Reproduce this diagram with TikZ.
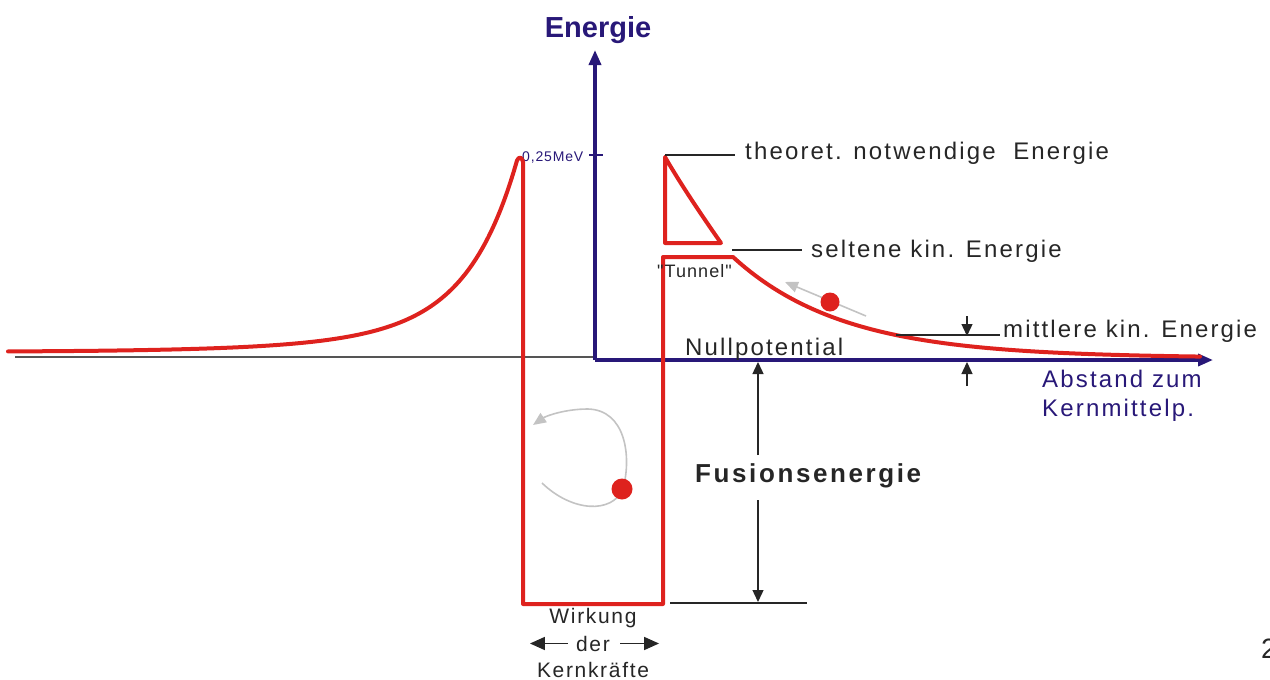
\documentclass[tikz,border=0pt]{standalone}
\usepackage{fontspec}
\setmainfont{Liberation Sans}
\newfontfamily\lsp[LetterSpace=9]{Liberation Sans}
\newfontfamily\lspb[LetterSpace=10]{Liberation Sans Bold}
\newfontfamily\lspw[LetterSpace=8]{Liberation Sans}
\newfontfamily\lspt[LetterSpace=6]{Liberation Sans}
\usetikzlibrary{arrows.meta}
\definecolor{myred}{RGB}{222,34,30}
\definecolor{navy}{RGB}{40,24,120}
\definecolor{lgray}{RGB}{195,195,195}
\definecolor{dgray}{RGB}{85,85,85}
\tikzset{
  rc/.style={draw=myred, line width=4pt, line join=round, line cap=round},
  axisline/.style={draw=navy, line width=3.5pt, -{Triangle[length=15pt,width=12pt]}},
  thinl/.style={draw=black!85, line width=1.4pt},
  dimarrow/.style={draw=black!85, line width=1.4pt, -{Triangle[length=12pt,width=11pt]}},
  bigarrow/.style={draw=black!85, line width=1.6pt, -{Triangle[length=15pt,width=13pt]}},
  grayarrow/.style={draw=lgray, line width=1.6pt, -{Triangle[length=13pt,width=11pt]}},
  txt/.style={inner sep=0pt, text=black!85},
  reddot/.style={circle, fill=myred, inner sep=0pt},
  lbl/.style={txt, font=\lsp\fontsize{24}{28}\selectfont, anchor=base west}
}
\begin{document}
\begin{tikzpicture}[x=1pt,y=-1pt]
\useasboundingbox (0,0) rectangle (1270,680);
% baseline
\draw[draw=dgray, line width=1.6pt] (15,357) -- (595,357);
% axes
\coordinate (O) at (595,360);
\coordinate (ytop) at (595,50);
\coordinate (xend) at (1213,360);
\draw[axisline] (O) -- (ytop);
\draw[axisline] (O) -- (xend);
\node[inner sep=0pt, text=navy, font=\bfseries\fontsize{29}{34}\selectfont, anchor=base] (energie) at (598,37) {Energie};
% tick
\draw[draw=navy, line width=1.4pt] (589,155) -- (603,155);
\node[inner sep=0pt, text=navy, font=\lspt\fontsize{14}{16}\selectfont, anchor=base west] (mev) at (522,161) {0,25MeV};
% red potential
\draw[rc] plot[domain=8:517,samples=160] (\x,{352-138*exp(-(518-\x)/45)-57*exp(-(518-\x)/110)})
  .. controls (519,156) and (522,157) .. (523,162) -- (523,604) -- (663,604) -- (663,257) -- (733,257)
  -- plot[domain=733:1200,samples=120] (\x,{358-101*exp(-(\x-733)/110)});
% triangle
\draw[rc] (665,157) .. controls (680,183) and (700,213) .. (721,243) -- (665,243) -- cycle;
% labels right
\node[lbl] (theo) at (745,159) {theoret. notwendige\ \ Energie};
\coordinate (theoL) at (735,155);
\draw[thinl] (665,155) -- (theoL);
\node[lbl] (selt) at (811,257) {seltene kin. Energie};
\coordinate (seltL) at (802,250);
\draw[thinl] (732,250) -- (seltL);
\node[txt, font=\lspt\fontsize{18}{20}\selectfont, anchor=base west] (tunnel) at (657,277) {"Tunnel"};
\node[lbl] (mittl) at (1003,337) {mittlere kin. Energie};
\coordinate (mittL) at (1000,335);
\draw[thinl] (896,335) -- (mittL);
\coordinate (mtop) at (967,316);
\coordinate (mmid) at (967,336);
\coordinate (mbot) at (967,386);
\coordinate (maxis) at (967,362);
\draw[dimarrow] (mtop) -- (mmid);
\draw[dimarrow] (mbot) -- (maxis);
\node[lbl] (null) at (685,355) {Nullpotential};
\node[lbl, text=navy] (abst1) at (1042,387) {Abstand zum};
\node[lbl, text=navy] (abst2) at (1042,416) {Kernmittelp.};
% dot outside
\draw[grayarrow] (866,316) -- (785,282);
\node[reddot, minimum size=19pt] (dot1) at (830,302) {};
% fusion energy
\node[txt, font=\lspb\fontsize{26}{30}\selectfont, anchor=base west] (fus) at (695,482) {Fusionsenergie};
\coordinate (fa1) at (758,455);
\coordinate (fa2) at (758,362);
\coordinate (fb1) at (758,500);
\coordinate (fb2) at (758,602);
\draw[dimarrow] (fa1) -- (fa2);
\draw[dimarrow] (fb1) -- (fb2);
\draw[thinl] (670,603) -- (807,603);
% inner loop
\draw[grayarrow] (542,483) .. controls (572,512) and (612,514) .. (623,489)
  .. controls (632,455) and (625,410) .. (588,409) .. controls (565,409) and (546,416) .. (533,425);
\node[reddot, minimum size=21pt] (dot2) at (622,489) {};
% Wirkung der Kernkraefte
\node[txt, font=\lspw\fontsize{21}{24}\selectfont, anchor=base] (wirk) at (593,623) {Wirkung};
\node[txt, font=\lspw\fontsize{21}{24}\selectfont, anchor=base] (der) at (593,651) {der};
\node[txt, font=\lspw\fontsize{21}{24}\selectfont, anchor=base] (kern) at (593,677) {Kernkräfte};
\draw[bigarrow] ([xshift=-8pt]der.west) -- ++(-38,0);
\draw[bigarrow] ([xshift=10pt]der.east) -- ++(39,0);
% page number
\node[txt, font=\fontsize{28}{30}\selectfont, anchor=base west] (pn) at (1261,658) {2};
\end{tikzpicture}
\end{document}
